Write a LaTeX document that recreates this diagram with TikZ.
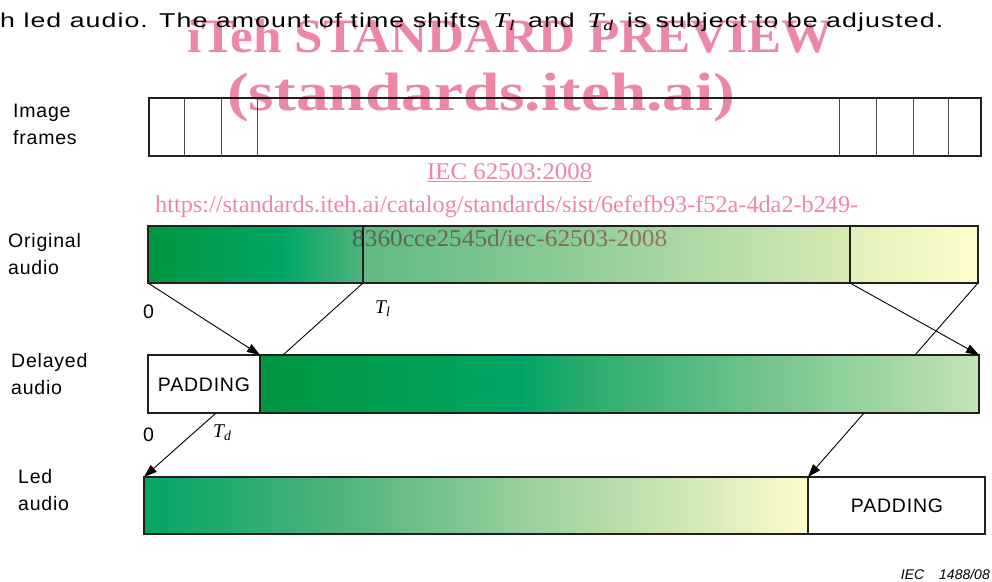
\documentclass[tikz,border=0pt]{standalone}
\usepackage{fontspec}
\usepackage{graphicx}
\setmainfont{Liberation Sans}
\newfontfamily\tnr{Liberation Serif}
\usetikzlibrary{arrows.meta}

\definecolor{wm}{RGB}{236,135,165}
\definecolor{lineblk}{RGB}{35,31,32}
\definecolor{gA}{RGB}{0,150,64}
\definecolor{gB}{RGB}{0,166,100}
\definecolor{gC}{RGB}{80,180,125}
\definecolor{gD}{RGB}{95,186,130}
\definecolor{gE}{RGB}{140,203,150}
\definecolor{gF}{RGB}{215,234,180}
\definecolor{gG}{RGB}{225,240,188}
\definecolor{gH}{RGB}{255,252,205}
\definecolor{gI}{RGB}{40,172,110}
\definecolor{gJ}{RGB}{115,196,142}
\definecolor{gK}{RGB}{195,228,178}
\definecolor{gL}{RGB}{160,210,160}
\definecolor{gM}{RGB}{215,235,185}

\pgfdeclarehorizontalshading{oneS}{100bp}{color(0bp)=(gA); color(25bp)=(gA); color(56bp)=(gB); color(75bp)=(gC); color(100bp)=(gC)}
\pgfdeclarehorizontalshading{twoS}{100bp}{color(0bp)=(gD); color(25bp)=(gD); color(45.5bp)=(gE); color(75bp)=(gF); color(100bp)=(gF)}
\pgfdeclarehorizontalshading{threeS}{100bp}{color(0bp)=(gG); color(25bp)=(gG); color(75bp)=(gH); color(100bp)=(gH)}
\pgfdeclarehorizontalshading{delS}{100bp}{color(0bp)=(gA); color(25bp)=(gA); color(43bp)=(gB); color(47.5bp)=(gI); color(60bp)=(gJ); color(75bp)=(gK); color(100bp)=(gK)}
\pgfdeclarehorizontalshading{ledS}{100bp}{color(0bp)=(gB); color(25bp)=(gB); color(40bp)=(gC); color(55bp)=(gL); color(67.5bp)=(gM); color(75bp)=(gH); color(100bp)=(gH)}

\newcommand\labfont{\fontsize{19.5}{27.5}\selectfont\addfontfeatures{LetterSpace=4}}
\newcommand\twol[2]{\begin{tabular}[t]{@{}l@{}}#1\\#2\end{tabular}}
\newcommand\Tsub[1]{{\tnr\itshape T\textsubscript{#1}}}

\begin{document}
\begin{tikzpicture}[x=1pt,y=-1pt,
  bar/.style={draw=lineblk, line width=1.8pt, inner sep=0pt, outer sep=0pt, anchor=north west},
  lab/.style={font=\labfont, anchor=base west, inner sep=0pt},
  conn/.style={draw=black, line width=0.9pt},
  arr/.style={conn, -{Triangle[length=13pt,width=9pt]}},
  divider/.style={draw=black!70, line width=1pt},
  wmark/.style={text=wm, inner sep=0pt, anchor=base west, blend mode=multiply}]
\useasboundingbox (0,0) rectangle (992,581);

% title line
\node[anchor=base west, inner sep=0pt] (title) at (0,27)
  {\resizebox{943pt}{\height}{\fontsize{20}{22}\selectfont\addfontfeatures{LetterSpace=4}h led audio. The amount of time shifts \,{\fontsize{21}{22}\selectfont\Tsub{l}}\, and \,{\fontsize{21}{22}\selectfont\Tsub{d}}\, is subject to be adjusted.}};

% image frames
\node[bar, minimum width=832pt, minimum height=58pt] (frames) at (149,98) {};
\foreach \x in {184,221,257,839,876,913,948}
  \draw[divider] (\x,98) -- (\x,156);

% original audio
\node[bar, shade, shading=oneS, minimum width=215pt, minimum height=57pt] (o1) at (148,226) {};
\node[bar, shade, shading=twoS, minimum width=487pt, minimum height=57pt] (o2) at (363,226) {};
\node[bar, shade, shading=threeS, minimum width=128pt, minimum height=57pt] (o3) at (850,226) {};

% delayed audio
\node[bar, fill=white, minimum width=112pt, minimum height=58pt] (dpad) at (148,355) {};
\node[font=\labfont, inner sep=0pt] (dpadtxt) at (204,385) {PADDING};
\node[bar, shade, shading=delS, minimum width=719pt, minimum height=58pt] (dgreen) at (260,355) {};

% led audio
\node[bar, shade, shading=ledS, minimum width=664pt, minimum height=57pt] (lgreen) at (144,477) {};
\node[bar, fill=white, minimum width=177pt, minimum height=57pt] (lpad) at (808,477) {};
\node[font=\labfont, inner sep=0pt] (lpadtxt) at (897,506) {PADDING};

% row labels
\node[lab] (limg) at (13,117) {\twol{Image}{frames}};
\node[lab] (lorig) at (8,247) {\twol{Original}{audio}};
\node[lab] (ldel) at (11,367) {\twol{Delayed}{audio}};
\node[lab] (lled) at (18,483) {\twol{Led}{audio}};

% time labels
\node[lab, anchor=base] (z1) at (148.5,318) {0};
\node[lab, anchor=base] (z2) at (148.5,441) {0};
\node[anchor=base west, inner sep=0pt, font=\fontsize{19.5}{22}\selectfont] (tl) at (375,313) {\Tsub{l}};
\node[anchor=base west, inner sep=0pt, font=\fontsize{19.5}{22}\selectfont] (td) at (213,437) {\Tsub{d}};

% connector end points on bar edges
\coordinate (dTl) at (283,355);
\coordinate (dEnd) at (915,355);
\coordinate (dPadB) at (216,413);
\coordinate (dEndB) at (864,413);

% connectors
\draw[arr] (o1.south west) -- (dgreen.north west);
\draw[conn] (o1.south east) -- (dTl);
\draw[arr] (o3.south west) -- (dgreen.north east);
\draw[conn] (o3.south east) -- (dEnd);
\draw[arr] (dPadB) -- (lgreen.north west);
\draw[arr] (dEndB) -- (lpad.north west);

% figure number
\node[anchor=base east, inner sep=0pt, font=\fontsize{14}{16}\selectfont\itshape] (iec) at (990,579) {IEC\hspace{15pt}1488/08};

% watermark
\node[wmark] (wm1) at (187,52) {\resizebox{646pt}{\height}{\fontsize{48}{50}\selectfont\tnr\bfseries iTeh STANDARD PREVIEW}};
\node[wmark] (wm2) at (227,110) {\resizebox{508pt}{\height}{\fontsize{54}{58}\selectfont\tnr\bfseries (standards.iteh.ai)}};
\node[wmark] (wm3) at (427,179) {\resizebox{165pt}{\height}{\fontsize{24}{28}\selectfont\tnr\underline{IEC 62503:2008}}};
\node[wmark] (wm4) at (155,212) {\resizebox{703pt}{\height}{\fontsize{24}{28}\selectfont\tnr https://standards.iteh.ai/catalog/standards/sist/6efefb93-f52a-4da2-b249-}};
\node[wmark] (wm5) at (352,246) {\resizebox{315pt}{\height}{\fontsize{24}{28}\selectfont\tnr 8360cce2545d/iec-62503-2008}};
\end{tikzpicture}
\end{document}
